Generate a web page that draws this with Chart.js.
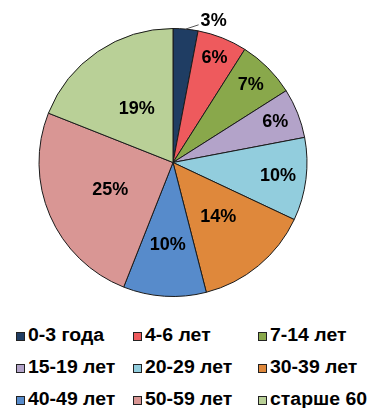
<!DOCTYPE html>
<html>
<head>
<meta charset="utf-8">
<script src="https://cdn.jsdelivr.net/npm/chart.js@4/dist/chart.umd.min.js"></script>
<style>
  html, body { margin: 0; padding: 0; background: #fff; }
  #wrap { position: relative; width: 369px; height: 408px; font-family: "Liberation Sans", Arial, sans-serif; }
  #box { position: absolute; left: 0; top: 0; width: 369px; height: 310px; }
  .leg { position: absolute; height: 32px; line-height: 32px; font-weight: bold; font-size: 18px; color: #000; white-space: nowrap; }
  .leg i { display: inline-block; width: 7px; height: 7px; border: 1px solid #222; margin-right: 3px; vertical-align: 0px; }
  .leg span { display: inline-block; transform: scaleX(1.08); transform-origin: left center; }
</style>
</head>
<body>
<div id="wrap">
  <div id="box"><canvas id="pie"></canvas></div>
  <div id="legend"></div>
</div>
<script>
// возрастные группы и их доли, %
const categories = ["0-3 года", "4-6 лет", "7-14 лет", "15-19 лет", "20-29 лет", "30-39 лет", "40-49 лет", "50-59 лет", "старше 60"];
const shares = [3, 6, 7, 6, 10, 14, 10, 25, 19];
const colors = ["#1f3d63", "#ee5a5d", "#89a84b", "#b3a3c9", "#92cddd", "#df883b", "#578bcb", "#d99694", "#b9d097"];

// подписи долей: [доля радиуса, угол в градусах от верха или null = середина сектора]
const labelPlace = [[1.1, 16], [0.84, null], [0.82, null], [0.82, null], [0.79, null], [0.53, null], [0.62, null], [0.51, null], [0.48, null]];

const pctLabels = {
  id: "pctLabels",
  afterDatasetsDraw(chart) {
    const ctx = chart.ctx;
    const arcs = chart.getDatasetMeta(0).data;
    ctx.save();
    ctx.font = "bold 18px 'Liberation Sans', Arial, sans-serif";
    ctx.fillStyle = "#000";
    ctx.textAlign = "center";
    ctx.textBaseline = "middle";
    arcs.forEach((arc, i) => {
      const p = arc.getProps(["x", "y", "startAngle", "endAngle", "outerRadius"], true);
      const mid = (p.startAngle + p.endAngle) / 2;
      const place = labelPlace[i];
      const ang = place[1] === null ? mid : (place[1] - 90) * Math.PI / 180;
      const r = p.outerRadius * place[0];
      const tx = p.x + Math.cos(ang) * r;
      const ty = p.y + Math.sin(ang) * r;
      const text = shares[i] + "%";
      if (place[0] > 1) {
        // выноска для маленького сектора
        const w = ctx.measureText(text).width;
        ctx.strokeStyle = "#555";
        ctx.lineWidth = 1;
        ctx.beginPath();
        ctx.moveTo(p.x + Math.cos(mid) * p.outerRadius, p.y + Math.sin(mid) * p.outerRadius);
        ctx.lineTo(tx - w / 2 - 2, ty + 4);
        ctx.stroke();
      }
      ctx.fillText(text, tx, ty);
    });
    ctx.restore();
  }
};

new Chart(document.getElementById("pie"), {
  type: "pie",
  data: {
    labels: categories,
    datasets: [{
      data: shares,
      backgroundColor: colors,
      borderColor: "#1a1a1a",
      borderWidth: 1
    }]
  },
  options: {
    responsive: true,
    maintainAspectRatio: false,
    animation: false,
    layout: { padding: { left: 0, right: 23, top: 28, bottom: 13 } },
    plugins: {
      legend: { display: false },
      tooltip: { enabled: false }
    }
  },
  plugins: [pctLabels]
});

// легенда: три колонки по три строки
const legend = document.getElementById("legend");
const colLeft = [16, 133, 258];
categories.forEach((name, i) => {
  const el = document.createElement("div");
  el.className = "leg";
  el.style.left = colLeft[i % 3] + "px";
  el.style.top = (319 + Math.floor(i / 3) * 32) + "px";
  el.innerHTML = '<i style="background:' + colors[i] + '"></i><span>' + name + '</span>';
  legend.appendChild(el);
});
</script>
</body>
</html>
